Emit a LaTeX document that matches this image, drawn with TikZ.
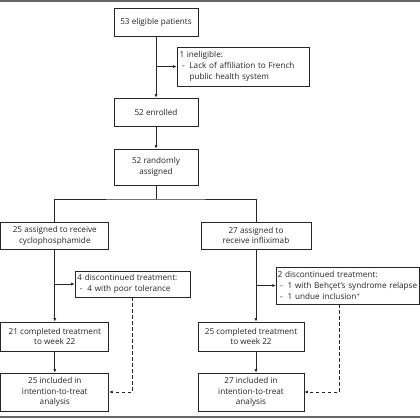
\documentclass[tikz,border=0pt]{standalone}
\usepackage{fontspec}
\setmainfont{Open Sans}
\usetikzlibrary{
	arrows.meta,						% Arrow tips
	positioning							% Relative positioning
}
\newcommand{\dashitem}{\makebox[10bp][l]{\hspace{2.5bp}-}}
\newcommand{\dashcont}{\hspace{10bp}}

\begin{document}
\begin{tikzpicture}
		[
		,x=1bp
		,y=-1bp
		,box/.style = {
			,draw=black!85
			,text=black!85
			,line width=0.7bp
			,inner sep=0pt
			,align=center
			,font=\fontsize{8.2}{10.9}\selectfont}
		,listbox/.style = {
			,box
			,align=left
			,inner xsep=2.5bp}
		,flow/.style = {
			,draw=black!85
			,line width=0.7bp}
		,arrow_head/.tip = {
			Latex[length=3.5bp, width=3bp]}
		]
		
		% Frame
		\useasboundingbox (0,0) rectangle (420,420);
		\fill[white] (0,0) rectangle (420,420);
		\fill[black!60] (0,0) rectangle (420,1.8);
		\fill[black!60] (0,415.5) rectangle (420,418);
		
		% Enrolment
		\node [box, minimum width=84bp, minimum height=28bp] (elig)   at (156,22)  {53 eligible patients};
		\node [listbox, text width=127bp, minimum height=39bp] (inelig) at (243,66.5)
			{1 ineligible:\\ \dashitem Lack of affiliation to French\\ \dashcont public health system};
		\node [box, minimum width=84bp, minimum height=28bp] (enrol)  at (156,112) {52 enrolled};
		\node [box, minimum width=84bp, minimum height=36bp] (random) at (156,167) {52 randomly\\ assigned};
		
		% Allocation
		\node [box, minimum width=108bp, minimum height=27bp] (cyclo)  at (54.8,235.5) {25 assigned to receive\\ cyclophosphamide};
		\node [box, minimum width=110bp, minimum height=27bp] (inflix) at (256,235.5)  {27 assigned to\\ receive infliximab};
		
		% Discontinued
		\node [listbox, text width=110bp, minimum height=26bp] (discL) at (132.5,284)
			{4 discontinued treatment:\\ \dashitem 4 with poor tolerance};
		\node [listbox, inner xsep=1.5bp, text width=140bp, minimum height=37bp] (discR) at (347.7,285.5)
			{2 discontinued treatment:\\ \mbox{\dashitem 1 with Behçet’s syndrome relapse}\\ \dashitem 1 undue inclusion$^{*}$};
		
		% Completed and analysed
		\node [box, minimum width=108bp, minimum height=29bp] (compL) at (54.8,336.5) {21 completed treatment\\ to week 22};
		\node [box, minimum width=106bp, minimum height=29bp] (compR) at (251,336.5)  {25 completed treatment\\ to week 22};
		\node [box, minimum width=108bp, minimum height=38bp] (itL)   at (54.8,392)   {25 included in\\ intention-to-treat\\ analysis};
		\node [box, minimum width=106bp, minimum height=38bp] (itR)   at (251,392)    {27 included in\\ intention-to-treat\\ analysis};
		
		% Connectors
		\coordinate (split) at (156,199);
		\draw [flow, -arrow_head] (elig) -- (enrol);
		\draw [flow, -arrow_head] (elig.south |- inelig.west) -- (inelig.west);
		\draw [flow, -arrow_head] (enrol) -- (random);
		\draw [flow] (random) -- (split);
		\draw [flow] (cyclo.north) |- (split) -| (inflix.north);
		
		\draw [flow, -arrow_head] (cyclo) -- (compL);
		\draw [flow, -arrow_head] (cyclo.south |- discL.west) -- (discL.west);
		\draw [flow, -arrow_head] (compL) -- (itL);
		
		\draw [flow, -arrow_head] (inflix.south) -- (inflix.south |- compR.north);
		\draw [flow, -arrow_head] (inflix.south |- discR.west) -- (discR.west);
		\draw [flow, -arrow_head] (inflix.south |- compR.south) -- (inflix.south |- itR.north);
		
		% Dropouts kept in analysis
		\draw [flow, dash pattern=on 3.5bp off 2.5bp, -arrow_head] (discL.south) |- (itL.east);
		\draw [flow, dash pattern=on 3.5bp off 2.5bp, -arrow_head] ([xshift=-8bp]discR.south) |- (itR.east);
	\end{tikzpicture}
\end{document}
